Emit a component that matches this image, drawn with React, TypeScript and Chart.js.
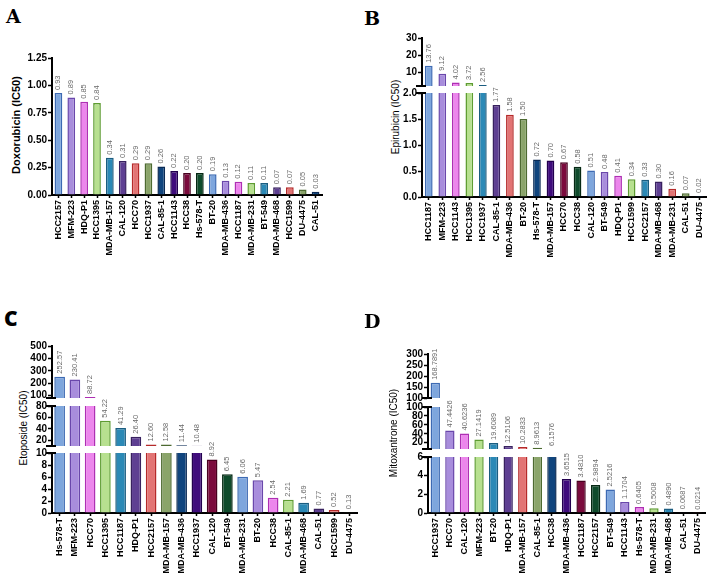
import React, { useEffect, useRef } from "react";
import { Chart, registerables } from "chart.js";

Chart.register(...registerables);

const FONT = "'Liberation Sans', Arial, sans-serif";

const FILL = ["#7ea6dd", "#a88ddc", "#ec86ec", "#b7e08f", "#2b89b6", "#5e3f92", "#e27474", "#8aa46a", "#10457e", "#3f0c7c", "#7b0b3d", "#0f4b2c"];
const EDGE = ["#3d6ab3", "#6a47ab", "#ae2fb3", "#5e9c32", "#1b5d80", "#38215f", "#b52a2a", "#4d6a31", "#0a2a54", "#22004e", "#48001f", "#052813"];

// Panel A – Doxorubicin
const catsA = ["HCC2157", "MFM-223", "HDQ-P1", "HCC1395", "MDA-MB-157", "CAL-120", "HCC70", "HCC1937", "CAL-85-1", "HCC1143", "HCC38", "Hs-578-T", "BT-20", "MDA-MB-436", "HCC1187", "MDA-MB-231", "BT-549", "MDA-MB-468", "HCC1599", "DU-4475", "CAL-51"];
const valsA = [0.93, 0.89, 0.85, 0.84, 0.34, 0.31, 0.29, 0.29, 0.26, 0.22, 0.2, 0.2, 0.19, 0.13, 0.12, 0.11, 0.11, 0.07, 0.07, 0.05, 0.03];
const ticksA = [0, 0.25, 0.5, 0.75, 1.0, 1.25];

// Panel B – Epirubicin
const catsB = ["HCC1187", "MFM-223", "HCC1143", "HCC1395", "HCC1937", "CAL-85-1", "MDA-MB-436", "BT-20", "Hs-578-T", "MDA-MB-157", "HCC70", "HCC38", "CAL-120", "BT-549", "HDQ-P1", "HCC1599", "HCC2157", "MDA-MB-468", "MDA-MB-231", "CAL-51", "DU-4475"];
const valsB = [13.76, 9.12, 4.02, 3.72, 2.56, 1.77, 1.58, 1.5, 0.72, 0.7, 0.67, 0.58, 0.51, 0.48, 0.41, 0.34, 0.33, 0.3, 0.16, 0.07, 0.02];
const ticksBTop = [10, 20, 30];
const ticksBBottom = [0, 0.5, 1.0, 1.5, 2.0];

// Panel C – Etoposide
const catsC = ["Hs-578-T", "MFM-223", "HCC70", "HCC1395", "HCC1187", "HDQ-P1", "HCC2157", "MDA-MB-157", "MDA-MB-436", "HCC1937", "CAL-120", "BT-549", "MDA-MB-231", "BT-20", "HCC38", "CAL-85-1", "MDA-MB-468", "CAL-51", "HCC1599", "DU-4475"];
const valsC = [252.57, 230.41, 88.72, 54.22, 41.29, 26.4, 12.6, 12.58, 11.44, 10.48, 8.92, 6.45, 6.06, 5.47, 2.54, 2.21, 1.69, 0.77, 0.52, 0.13];
const ticksCTop = [100, 200, 300, 400, 500];
const ticksCMid = [20, 40, 60, 80];
const ticksCBottom = [0, 2, 4, 6, 8, 10];

// Panel D – Mitoxantrone
const catsD = ["HCC1937", "HCC70", "CAL-120", "MFM-223", "BT-20", "HDQ-P1", "MDA-MB-157", "CAL-85-1", "HCC38", "MDA-MB-436", "HCC1187", "HCC2157", "BT-549", "HCC1143", "Hs-578-T", "MDA-MB-231", "MDA-MB-468", "CAL-51", "DU-4475"];
const valsD = [168.7891, 47.4426, 40.6236, 27.1419, 19.6089, 12.5106, 10.2833, 8.9613, 6.1576, 3.6515, 3.481, 2.9894, 2.5216, 1.1704, 0.6405, 0.5008, 0.489, 0.0687, 0.0214];
const ticksDTop = [100, 150, 200, 250, 300];
const ticksDMid = [20, 40, 60, 80, 100];
const ticksDBottom = [0, 2, 4, 6];

type Seg = { lo: number; hi: number; top: number; bottom: number; ticks: number[]; dec: number };

const YW = 36;
const PR = 12;
const PT = 26;
const PB = 8;
const XH = 64;

function Segment(props: {
  cats: string[]; vals: number[]; seg: Seg; isTop: boolean; isBottom: boolean;
  axisX: number; xEnd: number; barPct: number; labelDec: number;
}) {
  const { cats, vals, seg, isTop, isBottom, axisX, xEnd, barPct, labelDec } = props;
  const ref = useRef<HTMLCanvasElement | null>(null);
  const width = YW + (xEnd - axisX) + PR;
  const height = (seg.bottom - seg.top) + PT + (isBottom ? XH : PB);
  const left = axisX - YW;
  const top = seg.top - PT;

  useEffect(() => {
    if (!ref.current) return;
    const data = vals.map((v) => (v > seg.lo ? Math.min(v, seg.hi) : null));
    const clamped = vals.map((v) => v > seg.hi);
    const show = vals.map((v) => v > seg.lo && v <= seg.hi);

    const labelPlugin = {
      id: "valLabels",
      afterDatasetsDraw(chart: any) {
        const ctx = chart.ctx;
        const meta = chart.getDatasetMeta(0);
        ctx.save();
        ctx.fillStyle = "#6a6a6a";
        ctx.font = `7.5px ${FONT}`;
        ctx.textAlign = "left";
        ctx.textBaseline = "middle";
        meta.data.forEach((el: any, i: number) => {
          if (!show[i]) return;
          ctx.save();
          ctx.translate(el.x, el.y - 3);
          ctx.rotate(-Math.PI / 2);
          ctx.fillText(vals[i].toFixed(labelDec), 0, 0);
          ctx.restore();
        });
        ctx.restore();
      },
      afterDraw(chart: any) {
        const ctx = chart.ctx;
        const a = chart.chartArea;
        ctx.save();
        ctx.strokeStyle = "#000";
        ctx.lineWidth = 2;
        const x = a.left - 1;
        if (!isTop) {
          ctx.beginPath();
          ctx.moveTo(x - 5, a.top);
          ctx.lineTo(x + 5, a.top);
          ctx.stroke();
        }
        if (!isBottom) {
          ctx.beginPath();
          ctx.moveTo(x - 5, a.bottom);
          ctx.lineTo(x + 5, a.bottom);
          ctx.stroke();
        }
        ctx.restore();
      },
    };

    const chart = new Chart(ref.current, {
      type: "bar",
      data: {
        labels: cats,
        datasets: [
          {
            data: data as any,
            backgroundColor: cats.map((_, i) => FILL[i % FILL.length]),
            borderColor: cats.map((_, i) => EDGE[i % EDGE.length]),
            borderWidth: ((c: any) => (clamped[c.dataIndex] ? { left: 1.5, right: 1.5, top: 0, bottom: 0 } : 1.5)) as any,
            borderSkipped: "start",
            barPercentage: barPct,
            categoryPercentage: 1,
          },
        ],
      },
      options: {
        responsive: false,
        animation: false,
        maintainAspectRatio: false,
        layout: { padding: { top: PT, bottom: isBottom ? 0 : PB, left: 0, right: PR } },
        plugins: { legend: { display: false }, tooltip: { enabled: false } },
        scales: {
          x: {
            display: isBottom,
            offset: true,
            afterFit: (s: any) => { if (isBottom) s.height = XH; },
            ticks: {
              autoSkip: false, maxRotation: 90, minRotation: 90, padding: 2,
              color: "#000", font: { family: FONT, size: 9, weight: "bold" },
            },
            grid: { drawOnChartArea: false, drawTicks: true, tickLength: 3, tickWidth: 1.5, tickColor: "#000", offset: false },
            border: { display: true, color: "#000", width: 2 },
          },
          y: {
            min: seg.lo,
            max: seg.hi,
            afterFit: (s: any) => { s.width = YW; },
            afterBuildTicks: (s: any) => { s.ticks = seg.ticks.map((v) => ({ value: v })); },
            ticks: {
              autoSkip: false,
              padding: 1, color: "#000", font: { family: FONT, size: 10, weight: "bold" },
              callback: (v: any) => Number(v).toFixed(seg.dec),
            },
            grid: { drawOnChartArea: false, drawTicks: true, tickLength: 4, tickWidth: 1.5, tickColor: "#000" },
            border: { display: true, color: "#000", width: 2 },
          },
        },
      } as any,
      plugins: [labelPlugin],
    });
    return () => chart.destroy();
  }, []);

  return (
    <canvas
      ref={ref}
      width={width}
      height={height}
      style={{ position: "absolute", left, top, width, height }}
    />
  );
}

function Panel(props: {
  letter: string; letterFont: string; letterSize: number; lx: number; ly: number;
  title: string; titleBold: boolean; tx: number; ty: number;
  cats: string[]; vals: number[]; segs: Seg[]; axisX: number; xEnd: number; barPct: number; labelDec: number;
}) {
  const p = props;
  return (
    <>
      <div style={{ position: "absolute", left: p.lx, top: p.ly, fontFamily: p.letterFont, fontWeight: 900, fontSize: p.letterSize, lineHeight: 1, color: "#000" }}>{p.letter}</div>
      <div style={{ position: "absolute", left: p.tx, top: p.ty, transform: "translate(-50%, -50%) rotate(-90deg)", whiteSpace: "nowrap", fontFamily: FONT, fontWeight: p.titleBold ? "bold" : "normal", fontSize: p.titleBold ? 11 : 10, color: "#000" }}>{p.title}</div>
      {p.segs.map((s, i) => (
        <Segment key={i} cats={p.cats} vals={p.vals} seg={s} isTop={i === 0} isBottom={i === p.segs.length - 1}
          axisX={p.axisX} xEnd={p.xEnd} barPct={p.barPct} labelDec={p.labelDec} />
      ))}
    </>
  );
}

export default function App() {
  return (
    <div style={{ position: "absolute", left: 0, top: 0, width: 716, height: 574, background: "#fff", overflow: "hidden" }}>
      <Panel letter="A" letterFont="'DejaVu Serif', serif" letterSize={19} lx={6} ly={7}
        title="Doxorubicin (IC50)" titleBold={true} tx={16} ty={125}
        cats={catsA} vals={valsA} axisX={52} xEnd={322} barPct={0.6} labelDec={2}
        segs={[{ lo: 0, hi: 1.25, top: 58, bottom: 195, ticks: ticksA, dec: 2 }]} />
      <Panel letter="B" letterFont="'DejaVu Serif', serif" letterSize={19} lx={364} ly={9}
        title="Epirubicin (IC50)" titleBold={false} tx={395} ty={117}
        cats={catsB} vals={valsB} axisX={422} xEnd={706} barPct={0.57} labelDec={2}
        segs={[
          { lo: 2, hi: 30, top: 38, bottom: 86, ticks: ticksBTop, dec: 0 },
          { lo: 0, hi: 2, top: 93, bottom: 197, ticks: ticksBBottom, dec: 1 },
        ]} />
      <Panel letter="C" letterFont="'Open Sans', sans-serif" letterSize={21} lx={4} ly={308}
        title="Etoposide (IC50)" titleBold={false} tx={23} ty={428}
        cats={catsC} vals={valsC} axisX={52} xEnd={357} barPct={0.7} labelDec={2}
        segs={[
          { lo: 80, hi: 500, top: 346, bottom: 398, ticks: ticksCTop, dec: 0 },
          { lo: 10, hi: 80, top: 406, bottom: 446, ticks: ticksCMid, dec: 0 },
          { lo: 0, hi: 10, top: 453, bottom: 513, ticks: ticksCBottom, dec: 0 },
        ]} />
      <Panel letter="D" letterFont="'DejaVu Serif', serif" letterSize={19} lx={364} ly={312}
        title="Mitoxantrone (IC50)" titleBold={false} tx={393} ty={433}
        cats={catsD} vals={valsD} axisX={428} xEnd={705} barPct={0.64} labelDec={4}
        segs={[
          { lo: 100, hi: 300, top: 354, bottom: 398, ticks: ticksDTop, dec: 0 },
          { lo: 6, hi: 100, top: 407, bottom: 449, ticks: ticksDMid, dec: 0 },
          { lo: 0, hi: 6, top: 457, bottom: 513, ticks: ticksDBottom, dec: 0 },
        ]} />
    </div>
  );
}
